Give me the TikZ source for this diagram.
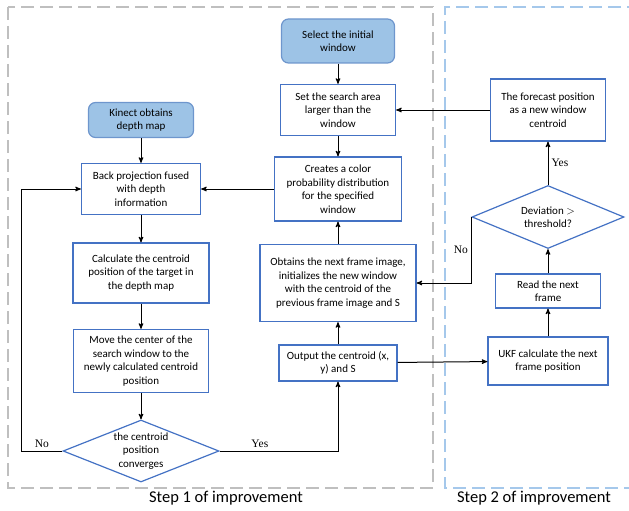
\documentclass[tikz,border=0pt]{standalone}
\usepackage{fontspec}
\setmainfont{Carlito}
\newfontfamily\lblfont{Liberation Serif}
\usetikzlibrary{arrows,shapes.geometric,positioning}
\definecolor{boxblue}{RGB}{68,114,196}
\definecolor{startfill}{RGB}{157,195,230}
\definecolor{startdraw}{RGB}{110,150,205}
\definecolor{graydash}{RGB}{191,191,191}
\definecolor{bluedash}{RGB}{165,200,235}

\begin{document}
\begin{tikzpicture}[x=1pt,y=1pt,>=stealth',node distance=70pt,
    proc/.style={rectangle, draw=boxblue, line width=1.2pt, align=center, inner sep=2pt, font=\fontsize{11}{13.5}\selectfont},
    start/.style={proc, rounded corners=7pt, fill=startfill, draw=startdraw},
    decide/.style={diamond, draw=boxblue, line width=1.2pt, align=center, inner sep=0pt, font=\fontsize{11}{13.5}\selectfont},
    lbl/.style={font=\lblfont\fontsize{11.5}{13}\selectfont, inner sep=3pt},
    frame/.style={line width=1.8pt, dash pattern=on 13pt off 6pt},
    link/.style={->, line width=1pt}]
  \useasboundingbox (0,0) rectangle (629,-511);

  % dashed frames of the two steps
  \draw[frame, draw=graydash] (8,-7) rectangle (433,-488);
  \draw[frame, draw=bluedash] (640,-7) -- (445,-7) -- (445,-488) -- (640,-488);
  \node[font=\fontsize{16.5}{19}\selectfont] (step1) at (226,-498) {Step 1 of improvement};
  \node[font=\fontsize{16.5}{19}\selectfont] (step2) at (534,-498) {Step 2 of improvement};

  % middle column
  \node[start, minimum width=113pt, minimum height=44pt] (sel) at (338,-41) {Select the initial\\window};
  \node[proc, minimum width=115pt, minimum height=51pt] (area) [below of=sel, node distance=69pt] {Set the search area\\larger than the\\window};
  \node[proc, minimum width=127pt, minimum height=64pt] (prob) [below of=area, node distance=79pt] {Creates a color\\probability distribution\\for the specified\\window};
  \node[proc, minimum width=156pt, minimum height=77pt] (next) [below of=prob, node distance=94pt] {Obtains the next frame image,\\initializes the new window\\with the centroid of the\\previous frame image and S};
  \node[proc, minimum width=118pt, minimum height=36pt] (out) [below of=next, node distance=80pt] {Output the centroid (x,\\y) and S};

  % left column
  \node[start, minimum width=105pt, minimum height=35pt] (kin) at (141,-120) {Kinect obtains\\depth map};
  \node[proc, minimum width=119pt, minimum height=51pt] (back) [below of=kin, node distance=69pt] {Back projection fused\\with depth\\information};
  \node[proc, minimum width=136pt, minimum height=60pt] (calc) [below of=back, node distance=84pt] {Calculate the centroid\\position of the target in\\the depth map};
  \node[proc, minimum width=135pt, minimum height=63pt] (move) [below of=calc, node distance=88pt] {Move the center of the\\search window to the\\newly calculated centroid\\position};
  \node[decide, minimum width=156pt, minimum height=62pt, aspect=2.5] (conv) [below of=move, node distance=90pt] {the centroid\\position\\converges};

  % right column
  \node[proc, minimum width=115pt, minimum height=62pt] (fore) at (548,-110) {The forecast position\\as a new window\\centroid};
  \node[decide, minimum width=152pt, minimum height=63pt, aspect=2.4] (dev) [below of=fore, node distance=107pt] {Deviation $>$\\threshold?};
  \node[proc, minimum width=105pt, minimum height=34pt] (read) [below of=dev, node distance=74pt] {Read the next\\frame};
  \node[proc, minimum width=120pt, minimum height=48pt] (ukf) [below of=read, node distance=70pt] {UKF calculate the next\\frame position};

  \path[link] (sel)  edge (area)
              (area) edge (prob)
              (next) edge (prob)
              (out)  edge (next)
              (prob) edge (back)
              (kin)  edge (back)
              (back) edge (calc)
              (calc) edge (move)
              (move) edge (conv)
              (fore) edge (area)
              (out)  edge (ukf)
              (ukf)  edge (read)
              (read) edge (dev)
              (dev)  edge node[lbl, right] (yes2) {Yes} (fore);

  \draw[link] (conv.west) -- node[lbl, above] (no1) {No} ++(-41,0) |- (back.west);
  \draw[link] (conv.east) -| node[lbl, above, pos=0.17] (yes1) {Yes} (out.south);
  \draw[link] (dev.west) |- node[lbl, left, pos=0.25] (no2) {No} (next.east);
\end{tikzpicture}
\end{document}
